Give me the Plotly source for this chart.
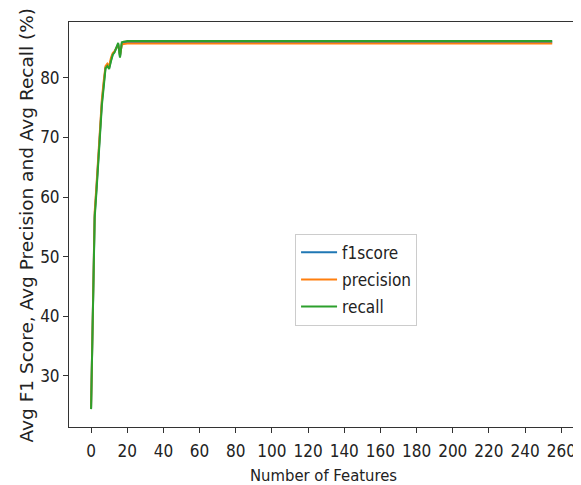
import plotly.graph_objects as go

# Number of features (x axis): 0 .. 255
n_features = 256
features = list(range(n_features))

# Rising part (x = 0..18), then a flat plateau
f1_head = [24.5, 44.0, 57.0, 61.5, 67.0, 72.0, 76.0, 79.0, 81.8, 82.2,
           81.7, 83.0, 84.0, 84.4, 85.0, 85.7, 83.6, 85.8, 85.9]
precision_head = [24.6, 44.5, 57.5, 62.0, 67.5, 72.5, 76.5, 79.5, 82.0, 82.4,
                  82.0, 83.4, 84.2, 84.5, 85.1, 85.6, 83.8, 85.6, 85.7]
recall_head = [24.4, 43.5, 56.5, 61.0, 66.5, 71.5, 75.5, 78.5, 81.6, 82.0,
               81.5, 82.8, 83.9, 84.3, 85.0, 85.9, 83.4, 86.0, 86.1]
f1_plateau = 86.0
precision_plateau = 85.8
recall_plateau = 86.2

f1score = f1_head + [f1_plateau] * (n_features - len(f1_head))
precision = precision_head + [precision_plateau] * (n_features - len(precision_head))
recall = recall_head + [recall_plateau] * (n_features - len(recall_head))

x_ticks = list(range(0, 261, 20))
y_ticks = [30, 40, 50, 60, 70, 80]

narrow = "DejaVu Sans Condensed, DejaVu Sans"
regular = "DejaVu Sans"

fig = go.Figure()
series = [("f1score", f1score, "#1f77b4"),
          ("precision", precision, "#ff7f0e"),
          ("recall", recall, "#2ca02c")]
for name, vals, color in series:
    fig.add_trace(go.Scatter(x=features, y=vals, mode="lines", name=name,
                             legendgroup=name,
                             line=dict(color=color, width=2)))

axis_common = dict(showline=True, linecolor="#333333", linewidth=1, mirror=True,
                   ticks="outside", ticklen=5, tickcolor="#333333",
                   showgrid=False, zeroline=False, automargin=False,
                   tickfont=dict(family=narrow, size=17, color="#222222"))

# the page body has an 8px margin, so the figure is sized to the visible area
fig.update_layout(
    width=573, height=477,
    margin=dict(l=61, r=4, t=14, b=58),
    paper_bgcolor="white", plot_bgcolor="white",
    font=dict(family=narrow, size=16, color="#222222"),
    xaxis=dict(range=[-12.2, 268.7], tickvals=x_ticks, ticklabelstandoff=4,
               **axis_common),
    yaxis=dict(range=[21.4, 89.4], tickvals=y_ticks, **axis_common),
    legend=dict(x=0.445, y=0.477, xanchor="left", yanchor="top",
                bgcolor="rgba(255,255,255,0.8)", bordercolor="#cccccc", borderwidth=1,
                font=dict(family=narrow, size=17), tracegroupgap=2, itemwidth=36),
    showlegend=True,
    annotations=[
        dict(text="Number of Features", xref="paper", yref="paper",
             x=0.5, y=-0.12, xanchor="center", yanchor="middle",
             showarrow=False, font=dict(family=narrow, size=16.5, color="#222222")),
        dict(text="Avg F1 Score, Avg Precision and Avg Recall (%)",
             xref="paper", yref="paper", x=-0.0827, y=0.5,
             xanchor="center", yanchor="middle", textangle=-90,
             showarrow=False, font=dict(family=regular, size=18.5, color="#222222")),
    ],
)

fig.write_html("out.html")
